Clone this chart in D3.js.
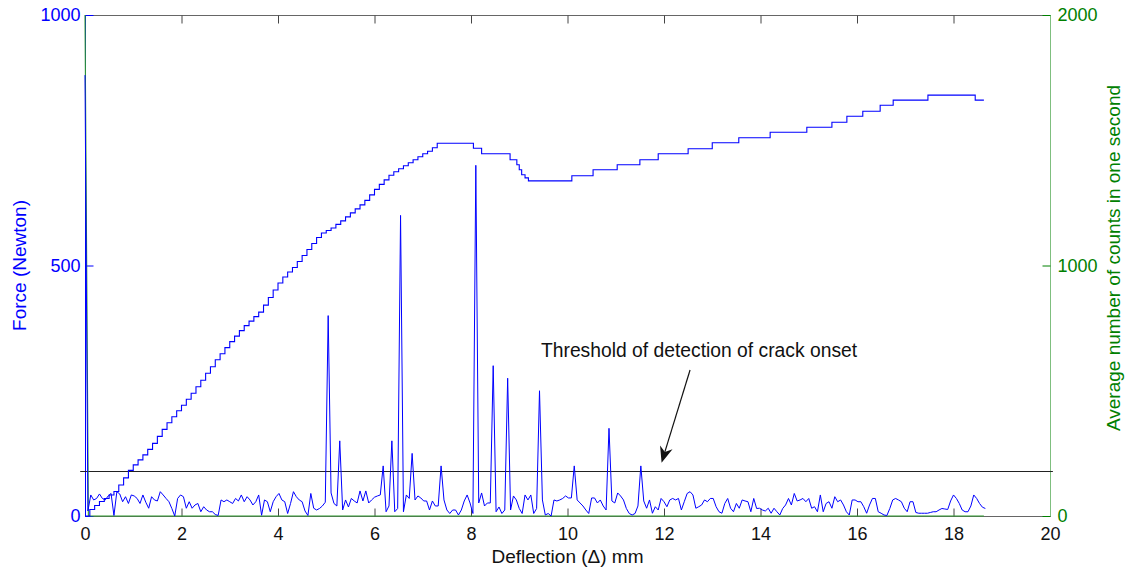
<!DOCTYPE html>
<html><head><meta charset="utf-8">
<script src="https://cdn.jsdelivr.net/npm/d3@7"></script>
<style>body{margin:0;background:#fff}svg{display:block}text{font-family:"Liberation Sans",Arial,sans-serif}</style>
</head><body><svg id="c" width="1130" height="573"></svg>
<script>
// ---- data ----
const xTicks = [0,2,4,6,8,10,12,14,16,18,20];
const forceTicks = [0,500,1000];
const countTicks = [0,1000,2000];
// force staircase breakpoints (mm, N)
const forceX = [0,0.1,0.2,0.3,0.4,0.5,0.6,0.7,0.8,0.9,1.0,1.1,1.2,1.3,1.4,1.5,1.6,1.7,1.8,1.9,2.0,2.1,2.2,2.3,2.4,2.5,2.6,2.7,2.8,2.9,3.0,3.1,3.2,3.3,3.4,3.5,3.6,3.7,3.8,3.9,4.0,4.1,4.2,4.3,4.4,4.5,4.6,4.7,4.8,4.9,5.0,5.1,5.2,5.3,5.4,5.5,5.6,5.7,5.8,5.9,6.0,6.1,6.2,6.3,6.4,6.5,6.6,6.7,6.8,6.9,7.0,7.1,7.2,7.3,8.05,8.22,8.81,8.95,9.0,9.05,9.12,9.19,10.09,10.53,11.03,11.50,11.88,12.50,13.0,13.55,14.2,14.96,15.48,15.79,16.12,16.48,16.75,17.47,18.45,18.63];
const forceY = [0,13,21,29,35,42,49,62,76,91,102,112,122,133,145,159,173,186,198,210,221,233,245,258,271,285,298,312,324,336,348,359,370,380,389,398,407,421,436,451,465,477,487,496,508,520,532,544,556,565,570,575,582,589,597,605,613,621,630,641,652,662,671,680,687,693,699,705,711,717,723,728,735,744,734,723,711,701,691,681,675,669,679,691,701,711,723,733,745,755,766,776,786,798,808,820,830,840,830,830];
// average counts per second, sampled every 0.06 mm from 0
const countStep = 0.06;
const counts = [
1760,20,84,64,70,88,70,64,80,90,
2,97,88,57,77,50,84,80,70,50,
84,55,31,77,64,60,97,84,70,57,
30,0,70,84,77,31,57,31,44,50,
17,37,24,17,17,6,2,64,57,64,
57,50,70,60,84,57,77,64,44,57,
84,3,64,57,17,57,77,90,64,57,
10,50,97,77,64,57,20,2,90,31,
24,30,40,55,800,92,50,40,300,24,
64,36,70,60,52,100,60,100,52,64,
75,80,84,200,17,40,300,17,30,1200,
17,84,70,250,64,80,72,60,60,24,
60,40,40,200,64,24,10,24,24,4,
24,60,84,52,10,1400,52,92,40,52,
52,600,17,36,10,24,550,24,80,64,
30,10,84,64,84,10,30,500,64,4,
10,0,64,60,64,70,80,72,72,200,
64,52,40,24,10,72,72,52,64,40,
24,350,60,52,92,80,64,30,10,4,
10,40,200,60,31,64,11,37,24,70,
57,37,64,70,64,70,24,57,90,97,
84,31,37,44,64,57,70,70,37,17,
11,50,70,31,17,50,31,64,60,57,
17,70,30,31,24,20,31,11,31,17,
4,30,44,70,44,90,60,64,70,57,
70,31,37,17,84,17,50,57,31,77,
57,64,44,17,4,64,64,57,57,37,
11,44,70,70,17,11,4,2,30,64,
70,64,57,31,17,57,57,14,11,11,
11,11,14,17,17,24,30,28,26,60,
84,70,50,24,17,17,40,84,70,50,
35,30];
// green trace on the counts axis
const greenX = [0,0.07,18.63];
const greenY = [2000,0,0];
const threshold = 180;           // counts
const thresholdX = [-0.1,20.06];
const annText = "Threshold of detection of crack onset";
const annTextPos = [9.45,636];  // mm, counts (baseline)
const arrowFrom = [12.54,583], arrowTo = [11.95,213];

// ---- chart ----
const svg = d3.select("#c");
const L=85,R=1050,T=15,B=516;
const x = d3.scaleLinear().domain([0,20]).range([L,R]);
const yF = d3.scaleLinear().domain([0,1000]).range([B,T]);
const yC = d3.scaleLinear().domain([0,2000]).range([B,T]);
const blue="#0000ff", green="#008000";
const fmt = d3.format("d");

// box top & bottom
svg.append("line").attr("x1",L).attr("x2",R).attr("y1",T+0.5).attr("y2",T+0.5).attr("stroke","#666");
svg.append("line").attr("x1",L).attr("x2",R).attr("y1",B+0.5).attr("y2",B+0.5).attr("stroke","#666");

// x ticks bottom and top
const gxb = svg.append("g").attr("transform",`translate(0,${B+0.5})`)
  .call(d3.axisBottom(x).tickValues(xTicks).tickSize(-8).tickFormat(fmt));
gxb.select(".domain").remove();
gxb.selectAll("line").attr("stroke","#444");
gxb.selectAll("text").attr("fill","#111").style("font-size","18px").attr("dy","0.71em").attr("y",11);
const gxt = svg.append("g").attr("transform",`translate(0,${T+0.5})`)
  .call(d3.axisTop(x).tickValues(xTicks).tickSize(-8).tickFormat(""));
gxt.select(".domain").remove();
gxt.selectAll("line").attr("stroke","#444");

// left axis
const gl = svg.append("g").attr("transform",`translate(${L+0.5},0)`)
  .call(d3.axisLeft(yF).tickValues(forceTicks).tickSize(-8).tickPadding(5).tickFormat(fmt));
gl.select(".domain").attr("stroke",blue).attr("d",`M0,${T}V${B}`);
gl.selectAll("line").attr("stroke",blue);
gl.selectAll("text").attr("fill",blue).style("font-size","18px");

// right axis
const gr = svg.append("g").attr("transform",`translate(${R+0.5},0)`)
  .call(d3.axisRight(yC).tickValues(countTicks).tickSize(-8).tickPadding(7).tickFormat(fmt));
gr.select(".domain").attr("stroke","#7fbf7f").attr("d",`M0,${T}V${B}`);
gr.selectAll("line").attr("stroke",green);
gr.selectAll("text").attr("fill",green).style("font-size","18px");

// threshold
svg.append("line").attr("x1",x(thresholdX[0])).attr("x2",x(thresholdX[1]))
  .attr("y1",Math.round(yC(threshold))+0.5).attr("y2",Math.round(yC(threshold))+0.5)
  .attr("stroke","#222").attr("stroke-width",1);

// green trace
svg.append("path").datum(greenX.map((d,i)=>[d,greenY[i]]))
  .attr("fill","none").attr("stroke","#2e9a2e").attr("stroke-width",1.1)
  .attr("d",d3.line().x(d=>x(d[0])).y(d=>yC(d[1])));

// counts line
svg.append("path").datum(counts.map((v,i)=>[i*countStep,v]))
  .attr("fill","none").attr("stroke",blue).attr("stroke-width",1)
  .attr("d",d3.line().x(d=>x(d[0])).y(d=>yC(d[1])));

// force staircase
svg.append("path").datum(forceX.map((d,i)=>[d,forceY[i]]))
  .attr("fill","none").attr("stroke",blue).attr("stroke-width",1.1)
  .attr("d",d3.line().x(d=>x(d[0])).y(d=>yF(d[1])).curve(d3.curveStepAfter));

// annotation
svg.append("text").attr("x",x(annTextPos[0])).attr("y",yC(annTextPos[1]))
  .style("font-size","19.3px").attr("fill","#111").text(annText);
const ax1=x(arrowFrom[0]), ay1=yC(arrowFrom[1]), ax2=x(arrowTo[0]), ay2=yC(arrowTo[1]);
const ang=Math.atan2(ay2-ay1,ax2-ax1);
const hl=16, hw=6.5;
const bx=ax2-hl*Math.cos(ang), by=ay2-hl*Math.sin(ang);
const nx=ax2-hl*0.7*Math.cos(ang), ny=ay2-hl*0.7*Math.sin(ang);
svg.append("line").attr("x1",ax1).attr("y1",ay1).attr("x2",nx).attr("y2",ny).attr("stroke","#111").attr("stroke-width",1.2);
svg.append("path").attr("fill","#111")
  .attr("d",`M${ax2},${ay2}L${bx-hw*Math.sin(ang)},${by+hw*Math.cos(ang)}L${nx},${ny}L${bx+hw*Math.sin(ang)},${by-hw*Math.cos(ang)}Z`);

// axis titles
svg.append("text").attr("transform",`translate(26,${(T+B)/2}) rotate(-90)`).attr("text-anchor","middle")
  .attr("fill",blue).style("font-size","19px").text("Force (Newton)");
svg.append("text").attr("transform",`translate(1120,258) rotate(-90)`).attr("text-anchor","middle")
  .attr("fill",green).style("font-size","19px").text("Average number of counts in one second");
svg.append("text").attr("x",(L+R)/2).attr("y",563).attr("text-anchor","middle")
  .attr("fill","#111").style("font-size","19px").text("Deflection (Δ) mm");
</script></body></html>
